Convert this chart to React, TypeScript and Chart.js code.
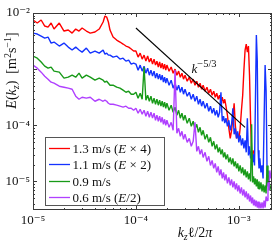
import React, { useEffect, useRef } from 'react';
import { Chart, registerables } from 'chart.js';

Chart.register(...registerables);

// k_z l / 2pi grid
const kz = [
  1.0e-5, 1.1e-5, 1.2e-5, 1.3e-5, 1.4e-5, 1.5e-5, 1.6e-5, 1.8e-5, 2.0e-5, 2.2e-5,
  2.4e-5, 2.6e-5, 2.8e-5, 3.0e-5, 3.3e-5, 3.6e-5, 4.0e-5, 4.4e-5, 4.8e-5, 5.0e-5,
  5.2e-5, 5.4e-5, 5.6e-5, 6.0e-5, 6.5e-5, 7.0e-5, 7.5e-5, 8.0e-5, 8.5e-5, 9.0e-5,
  9.5e-5,
  1.0e-4, 1.05e-4, 1.1e-4, 1.15e-4, 1.2e-4, 1.25e-4, 1.3e-4, 1.35e-4, 1.4e-4, 1.45e-4,
  1.5e-4, 1.55e-4, 1.6e-4, 1.65e-4, 1.7e-4, 1.75e-4, 1.8e-4, 1.85e-4, 1.9e-4, 1.95e-4,
  2.0e-4, 2.1e-4, 2.2e-4, 2.3e-4, 2.4e-4, 2.5e-4, 2.6e-4, 2.7e-4, 2.8e-4, 2.9e-4,
  3.0e-4, 3.15e-4, 3.3e-4, 3.45e-4, 3.6e-4, 3.75e-4, 3.9e-4, 4.05e-4, 4.2e-4, 4.35e-4,
  4.5e-4, 4.7e-4, 4.9e-4, 5.1e-4, 5.3e-4, 5.5e-4, 5.7e-4, 5.9e-4, 6.1e-4, 6.3e-4,
  6.5e-4, 6.7e-4, 6.9e-4, 7.1e-4, 7.3e-4, 7.5e-4, 7.75e-4, 8.0e-4, 8.25e-4, 8.5e-4,
  8.75e-4, 9.0e-4, 9.25e-4, 9.5e-4, 9.75e-4,
  1.0e-3, 1.03e-3, 1.06e-3, 1.09e-3, 1.12e-3, 1.15e-3, 1.18e-3, 1.21e-3, 1.24e-3, 1.27e-3,
  1.3e-3, 1.33e-3, 1.36e-3, 1.39e-3, 1.42e-3, 1.45e-3, 1.48e-3, 1.51e-3, 1.54e-3, 1.57e-3,
  1.6e-3, 1.64e-3, 1.68e-3, 1.72e-3, 1.76e-3, 1.8e-3, 1.84e-3, 1.88e-3, 1.92e-3, 1.96e-3,
  2.0e-3, 2.05e-3,
];

// 1.3 m/s (E x 4)
const e13 = [
  7.50e-3, 6.63e-3, 7.50e-3, 5.86e-3, 5.62e-3, 6.63e-3, 5.18e-3, 6.63e-3, 4.77e-3, 4.97e-3,
  4.39e-3, 5.18e-3, 4.77e-3, 5.40e-3, 4.77e-3, 4.39e-3, 4.58e-3, 5.18e-3, 6.91e-3, 8.84e-3,
  8.48e-3, 6.91e-3, 4.97e-3, 3.73e-3, 3.30e-3, 3.04e-3, 2.80e-3, 2.58e-3, 2.47e-3, 2.28e-3,
  2.10e-3,
  2.10e-3, 1.64e-3, 1.93e-3, 1.51e-3, 1.78e-3, 1.39e-3, 1.71e-3, 1.34e-3, 1.57e-3, 1.23e-3,
  1.51e-3, 1.18e-3, 1.39e-3, 1.09e-3, 1.34e-3, 1.04e-3, 1.28e-3, 1.00e-3, 1.23e-3, 9.60e-4,
  1.18e-3, 9.21e-4, 1.09e-3, 8.48e-4, 1.00e-3, 7.81e-4, 9.21e-4, 7.19e-4, 8.48e-4, 6.63e-4,
  7.81e-4, 6.10e-4, 7.19e-4, 5.62e-4, 6.63e-4, 5.18e-4, 6.10e-4, 4.77e-4, 5.62e-4, 4.39e-4,
  5.18e-4, 4.05e-4, 4.77e-4, 3.73e-4, 4.39e-4, 3.43e-4, 4.05e-4, 3.16e-4, 3.73e-4, 2.91e-4,
  3.43e-4, 2.68e-4, 3.16e-4, 2.47e-4, 2.91e-4, 2.19e-4, 1.51e-4, 8.84e-5, 5.86e-5, 8.14e-5,
  1.34e-4, 2.47e-4, 1.00e-4, 5.86e-5, 7.19e-5,
  5.40e-5, 8.84e-5, 1.85e-4, 3.43e-4, 9.60e-4, 2.19e-3, 2.80e-3, 2.01e-3, 2.58e-3, 7.81e-4,
  1.23e-4, 3.58e-5, 2.58e-5, 3.58e-5, null, null, null, null, null, null,
  null, null, null, null, null, null, null, null, null, null,
  null, null,
];

// 1.1 m/s (E x 2)
const e11 = [
  4.39e-3, 4.22e-3, 3.88e-3, 3.58e-3, 3.73e-3, 2.91e-3, 3.04e-3, 2.58e-3, 2.91e-3, 2.47e-3,
  2.19e-3, 2.47e-3, 2.19e-3, 2.01e-3, 2.37e-3, 1.93e-3, 2.10e-3, 1.93e-3, 2.19e-3, 1.85e-3,
  1.93e-3, 1.78e-3, 1.78e-3, 1.64e-3, 1.71e-3, 1.51e-3, 1.57e-3, 1.39e-3, 1.45e-3, 1.23e-3,
  1.28e-3,
  1.23e-3, 9.60e-4, 1.18e-3, 9.21e-4, 1.13e-3, 8.48e-4, 1.04e-3, 7.81e-4, 9.60e-4, 7.50e-4,
  9.21e-4, 6.91e-4, 8.48e-4, 6.63e-4, 8.14e-4, 6.36e-4, 7.81e-4, 5.86e-4, 7.19e-4, 5.62e-4,
  6.91e-4, 5.18e-4, 6.36e-4, 4.58e-4, 5.62e-4, 4.22e-4, 5.18e-4, 3.88e-4, 4.77e-4, 3.58e-4,
  4.39e-4, 3.30e-4, 3.88e-4, 2.91e-4, 3.58e-4, 2.68e-4, 3.30e-4, 2.37e-4, 2.91e-4, 2.19e-4,
  2.68e-4, 2.01e-4, 2.47e-4, 1.78e-4, 2.19e-4, 1.64e-4, 2.01e-4, 1.51e-4, 1.85e-4, 1.39e-4,
  1.71e-4, 3.88e-4, 1.18e-4, 1.45e-4, 1.09e-4, 1.34e-4, 9.60e-5, 1.23e-4, 8.14e-5, 1.04e-4,
  2.01e-4, 6.91e-5, 8.84e-5, 5.86e-5, 7.81e-5,
  4.97e-5, 6.63e-5, 4.39e-5, 5.86e-5, 3.88e-5, 5.40e-5, 3.30e-5, 1.34e-4, 2.91e-5, 4.22e-5,
  2.58e-5, 3.58e-5, 2.19e-5, 3.04e-5, 1.93e-5, 2.80e-4, 4.05e-3, 1.45e-3, 3.58e-5, 1.71e-5,
  2.58e-5, 1.45e-5, 1.93e-5, 1.13e-5, 1.23e-4, 1.18e-3, 4.22e-4, 1.57e-5, 1.04e-5, null,
  null, null,
];

// 0.9 m/s
const e09 = [
  1.71e-3, 1.57e-3, 1.34e-3, 1.13e-3, 1.04e-3, 1.09e-3, 9.21e-4, 8.84e-4, 6.91e-4, 7.19e-4,
  7.81e-4, 7.19e-4, 8.48e-4, 6.91e-4, 7.81e-4, 7.19e-4, 6.36e-4, 6.91e-4, 6.36e-4, 5.86e-4,
  6.10e-4, 5.62e-4, 5.18e-4, 5.18e-4, 4.77e-4, 4.58e-4, 4.22e-4, 3.88e-4, 4.05e-4, 3.58e-4,
  3.58e-4,
  3.88e-4, 3.04e-4, 3.73e-4, 2.91e-4, 1.09e-3, 2.80e-4, 3.43e-4, 2.68e-4, 3.30e-4, 2.47e-4,
  3.04e-4, 2.37e-4, 2.91e-4, 2.28e-4, 2.80e-4, 2.19e-4, 2.68e-4, 2.10e-4, 2.58e-4, 2.01e-4,
  2.47e-4, 1.85e-4, 2.28e-4, 1.71e-4, 2.10e-4, 1.51e-4, 1.85e-4, 1.34e-4, 1.64e-4, 1.23e-4,
  1.51e-4, 1.09e-4, 1.34e-4, 9.60e-5, 1.18e-4, 8.48e-5, 1.04e-4, 7.50e-5, 9.21e-5, 6.63e-5,
  8.14e-5, 5.62e-5, 6.91e-5, 4.97e-5, 6.10e-5, 4.22e-5, 5.18e-5, 3.73e-5, 4.58e-5, 3.30e-5,
  4.05e-5, 3.04e-5, 3.73e-5, 2.68e-5, 3.30e-5, 2.47e-5, 3.04e-5, 2.19e-5, 2.68e-5, 2.01e-5,
  2.58e-5, 1.85e-5, 2.28e-5, 1.71e-5, 2.10e-5,
  1.51e-5, 1.93e-5, 1.39e-5, 1.78e-5, 1.28e-5, 1.64e-5, 1.18e-5, 1.51e-5, 1.09e-5, 1.39e-5,
  1.00e-5, 1.04e-4, 9.60e-6, 1.23e-5, 8.84e-6, 1.13e-5, 8.14e-6, 1.09e-5, 7.50e-6, 1.00e-5,
  7.19e-6, 9.60e-6, 6.63e-6, 8.84e-6, 6.36e-6, 8.48e-6, 6.10e-6, 1.93e-5, 8.14e-6, 1.28e-5,
  6.91e-6, 8.48e-6,
];

// 0.6 m/s (E / 2)
const e06 = [
  1.18e-3, 1.04e-3, 8.84e-4, 7.50e-4, 6.63e-4, 5.86e-4, 5.62e-4, 4.97e-4, 4.77e-4, 4.58e-4,
  4.39e-4, 3.30e-4, 2.91e-4, 3.16e-4, 3.04e-4, 3.16e-4, 2.68e-4, 2.91e-4, 2.68e-4, 2.80e-4,
  2.68e-4, 2.47e-4, 2.37e-4, 2.37e-4, 2.28e-4, 2.19e-4, 2.10e-4, 2.19e-4, 2.01e-4, 2.01e-4,
  1.85e-4,
  2.01e-4, 1.64e-4, 1.93e-4, 1.57e-4, 1.85e-4, 1.45e-4, 1.78e-4, 1.39e-4, 1.71e-4, 1.34e-4,
  1.64e-4, 1.23e-4, 1.51e-4, 1.18e-4, 1.45e-4, 1.13e-4, 1.39e-4, 1.04e-4, 1.28e-4, 1.00e-4,
  1.23e-4, 9.21e-5, 1.13e-4, 8.14e-5, 9.60e-4, 7.19e-5, 8.84e-5, 6.36e-5, 7.81e-5, 5.62e-5,
  6.91e-5, 4.97e-5, 5.86e-5, 4.22e-5, 5.18e-5, 1.13e-4, 3.43e-5, 4.22e-5, 3.04e-5, 3.73e-5,
  2.68e-5, 3.30e-5, 2.28e-5, 2.80e-5, 1.93e-5, 2.37e-5, 1.71e-5, 2.10e-5, 1.45e-5, 1.85e-5,
  1.28e-5, 1.64e-5, 1.13e-5, 1.45e-5, 1.04e-5, 1.34e-5, 9.21e-6, 1.18e-5, 8.48e-6, 1.09e-5,
  7.81e-6, 1.00e-5, 7.19e-6, 9.21e-6, 6.63e-6,
  8.48e-6, 6.10e-6, 7.81e-6, 5.62e-6, 7.19e-6, 5.18e-6, 6.63e-6, 4.77e-6, 6.10e-6, 4.39e-6,
  5.62e-6, 4.05e-6, 5.18e-6, 3.73e-6, 4.77e-6, 3.58e-6, 4.58e-6, 3.43e-6, 4.39e-6, 3.30e-6,
  4.22e-6, 3.30e-6, 4.22e-6, 3.30e-6, 4.58e-6, 3.43e-6, 5.40e-6, 4.58e-6, 9.60e-6, 6.91e-6,
  1.57e-5, 1.13e-5,
];

// k^{-5/3} reference line end points
const refK = [1.0e-4, 1.15e-3];
const refE = [5.4e-3, 9.2e-5];

const xTicks = [1e-5, 1e-4, 1e-3];
const xTickLabels = ['10⁻⁵', '10⁻⁴', '10⁻³'];
const yTicks = [1e-5, 1e-4, 1e-2];
const yTickLabels = ['10⁻⁵', '10⁻⁴', '10⁻²'];

const seriesNames = ['1.3 m/s (E × 4)', '1.1 m/s (E × 2)', '0.9 m/s', '0.6 m/s (E/2)'];
const seriesColors = ['#ff0000', '#1433ff', '#189a18', '#b040ff'];

const SERIF = '"Liberation Serif", "DejaVu Serif", "Times New Roman", serif';
const rom = (s: number) => `${s}px ${SERIF}`;
const ita = (s: number) => `italic ${s}px ${SERIF}`;

type Piece = { t: string; f: string; dy?: number };

function richWidth(ctx: CanvasRenderingContext2D, pieces: Piece[]) {
  let w = 0;
  for (const p of pieces) {
    ctx.font = p.f;
    w += ctx.measureText(p.t).width;
  }
  return w;
}

function drawRich(ctx: CanvasRenderingContext2D, pieces: Piece[], x: number, y: number, center: boolean) {
  let cx = center ? x - richWidth(ctx, pieces) / 2 : x;
  for (const p of pieces) {
    ctx.font = p.f;
    ctx.fillText(p.t, cx, y + (p.dy || 0));
    cx += ctx.measureText(p.t).width;
  }
}

// split "(E × 4)" style names into roman / italic E pieces
function namePieces(name: string): Piece[] {
  const out: Piece[] = [];
  const parts = name.split('E');
  parts.forEach((s, i) => {
    if (s) out.push({ t: s, f: rom(13) });
    if (i < parts.length - 1) out.push({ t: 'E', f: ita(13) });
  });
  return out;
}

const decor = {
  id: 'decor',
  afterDatasetsDraw(chart: any) {
    const { ctx, chartArea: ca, scales } = chart;
    const xs = scales.x;
    const ys = scales.y;
    ctx.save();
    ctx.strokeStyle = '#3a3a3a';
    ctx.lineWidth = 1;
    ctx.beginPath();
    for (let d = -6; d <= -2; d++) {
      for (let m = 1; m <= 9; m++) {
        const v = m * Math.pow(10, d);
        if (v < ys.min * 0.999 || v > ys.max * 1.001) continue;
        const py = Math.round(ys.getPixelForValue(v)) + 0.5;
        const len = m === 1 ? 4 : 2;
        ctx.moveTo(ca.left, py);
        ctx.lineTo(ca.left + len, py);
        ctx.moveTo(ca.right, py);
        ctx.lineTo(ca.right - len, py);
      }
    }
    for (let d = -5; d <= -3; d++) {
      for (let m = 1; m <= 9; m++) {
        const v = m * Math.pow(10, d);
        if (v < xs.min * 0.999 || v > xs.max * 1.001) continue;
        const px = Math.round(xs.getPixelForValue(v)) + 0.5;
        const len = m === 1 ? 4 : 2;
        ctx.moveTo(px, ca.bottom);
        ctx.lineTo(px, ca.bottom - len);
        ctx.moveTo(px, ca.top);
        ctx.lineTo(px, ca.top + len);
      }
    }
    ctx.stroke();
    ctx.strokeRect(ca.left + 0.5, ca.top + 0.5, ca.right - ca.left - 1, ca.bottom - ca.top - 1);
    ctx.restore();
  },
  afterDraw(chart: any) {
    const { ctx } = chart;
    ctx.save();
    ctx.fillStyle = '#111';
    ctx.textBaseline = 'alphabetic';

    // k^{-5/3} annotation
    drawRich(ctx, [
      { t: 'k', f: ita(13) },
      { t: '−5/3', f: rom(10.5), dy: -6 },
    ], 191.5, 73, false);

    // legend
    const bx = 45.5, by = 137.5, bw = 119, bh = 68;
    ctx.fillStyle = 'rgba(255,255,255,0.9)';
    ctx.fillRect(bx, by, bw, bh);
    ctx.strokeStyle = '#555';
    ctx.lineWidth = 1;
    ctx.strokeRect(bx, by, bw, bh);
    const rows = [148, 164, 181, 197];
    seriesNames.forEach((name, i) => {
      const ry = rows[i];
      ctx.strokeStyle = seriesColors[i];
      ctx.lineWidth = 1.3;
      ctx.beginPath();
      ctx.moveTo(49, ry + 0.5);
      ctx.lineTo(70, ry + 0.5);
      ctx.stroke();
      ctx.fillStyle = '#111';
      drawRich(ctx, namePieces(name), 72.5, ry + 4.5, false);
    });

    // x axis title
    ctx.fillStyle = '#111';
    drawRich(ctx, [
      { t: 'k', f: ita(14) },
      { t: 'z', f: ita(10), dy: 2.5 },
      { t: 'ℓ/2', f: rom(14) },
      { t: 'π', f: ita(14) },
    ], 195, 237, true);

    // y axis title (rotated)
    ctx.translate(16, 70.5);
    ctx.rotate(-Math.PI / 2);
    drawRich(ctx, [
      { t: 'E', f: ita(14) },
      { t: '(', f: rom(14) },
      { t: 'k', f: ita(14) },
      { t: 'z', f: ita(10), dy: 2.5 },
      { t: ')  [m', f: rom(14) },
      { t: '2', f: rom(10), dy: -5.5 },
      { t: 's', f: rom(14) },
      { t: '−1', f: rom(10), dy: -5.5 },
      { t: ']', f: rom(14) },
    ], 0, 0, true);
    ctx.restore();
  },
};

export default function App() {
  const ref = useRef<HTMLCanvasElement | null>(null);

  useEffect(() => {
    if (!ref.current) return;
    const all = [e13, e11, e09, e06];
    const datasets: any[] = all.map((arr, i) => ({
      label: seriesNames[i],
      data: kz.map((k, j) => ({ x: k, y: arr[j] })),
      borderColor: seriesColors[i],
      borderWidth: 1.4,
      pointRadius: 0,
      tension: 0,
      borderJoinStyle: 'bevel',
      spanGaps: false,
      clip: 0,
      order: 4 - i,
    }));
    datasets.push({
      label: 'k^-5/3',
      data: refK.map((k, j) => ({ x: k, y: refE[j] })),
      borderColor: '#000',
      borderWidth: 1.1,
      pointRadius: 0,
      clip: 0,
      order: 0,
    });

    const chart = new Chart(ref.current, {
      type: 'line',
      data: { datasets },
      plugins: [decor],
      options: {
        animation: false,
        responsive: false,
        devicePixelRatio: 1,
        events: [],
        layout: { padding: { top: 13, right: 8, left: 0, bottom: 0 } },
        plugins: { legend: { display: false }, tooltip: { enabled: false } },
        scales: {
          x: {
            type: 'logarithmic',
            min: 1e-5,
            max: 2.1e-3,
            grid: { display: false, drawTicks: false },
            border: { display: false },
            afterBuildTicks: (s: any) => { s.ticks = xTicks.map((v) => ({ value: v })); },
            afterFit: (s: any) => { s.height = 39; },
            ticks: {
              autoSkip: false,
              maxRotation: 0,
              padding: 3,
              color: '#111',
              font: { family: SERIF, size: 13 },
              callback: (_v: any, i: number) => xTickLabels[i],
            },
          },
          y: {
            type: 'logarithmic',
            min: 3.1e-6,
            max: 1e-2,
            grid: { display: false, drawTicks: false },
            border: { display: false },
            afterBuildTicks: (s: any) => { s.ticks = yTicks.map((v) => ({ value: v })); },
            afterFit: (s: any) => { s.width = 33; },
            ticks: {
              autoSkip: false,
              padding: 3,
              color: '#111',
              font: { family: SERIF, size: 13 },
              callback: (_v: any, i: number) => yTickLabels[i],
            },
          },
        },
      } as any,
    });
    return () => chart.destroy();
  }, []);

  return (
    <div style={{ position: 'fixed', left: 0, top: 0, width: 280, height: 249, background: '#fff' }}>
      <canvas ref={ref} width={280} height={249} style={{ display: 'block' }} />
    </div>
  );
}
